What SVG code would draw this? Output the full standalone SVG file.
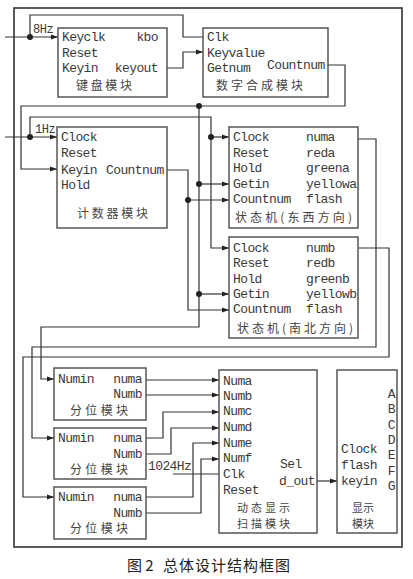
<svg xmlns="http://www.w3.org/2000/svg" width="413" height="579" viewBox="0 0 413 579">
<style>
.bg{fill:#fff}
.frame{fill:none;stroke:#333;stroke-width:1.6}
.box{fill:#fff;stroke:#555;stroke-width:1.5}
.w{fill:none;stroke:#333;stroke-width:1.2}
.t{font-family:"Liberation Mono",monospace;font-size:13px;letter-spacing:-0.6px;fill:#3a3a3a}
.s{font-family:"Liberation Mono",monospace;font-size:12px;letter-spacing:-0.4px;fill:#3a3a3a}
.c{font-family:"Noto Sans CJK SC",sans-serif;font-size:12px;fill:#444}
.c2{font-family:"Noto Sans CJK SC",sans-serif;font-size:11px;fill:#444}
.cap{font-family:"Noto Sans CJK SC",sans-serif;font-size:15px;fill:#222}
.e{text-anchor:end}
.dot{fill:#222}
</style>
<defs>
<marker id="ah" markerWidth="7" markerHeight="6" refX="7" refY="3" orient="auto" markerUnits="userSpaceOnUse"><path d="M0,0.5 L7,3 L0,5.5 z" fill="#222"/></marker>
</defs>
<rect class="bg" x="0" y="0" width="413" height="579"/>
<rect id="frame" class="frame" x="14" y="8" width="388" height="539"/>

<g id="connectors">
<path class="w" d="M5,37 H58" marker-end="url(#ah)"/>
<path class="w" d="M30,37 V15 H183 V37 H203"/>
<path class="w" d="M167,68 H183 V52 H203" marker-end="url(#ah)"/>
<path class="w" d="M328,65 H345 V106 H21 V169 H57" marker-end="url(#ah)"/>
<path class="w" d="M199,106 V327 H41 V379 H54" marker-end="url(#ah)"/>
<path class="w" d="M199,184 H229" marker-end="url(#ah)"/>
<path class="w" d="M199,294 H229" marker-end="url(#ah)"/>
<path class="w" d="M5,137 H57" marker-end="url(#ah)"/>
<path class="w" d="M30,137 V117 H211 V248 H229" marker-end="url(#ah)"/>
<path class="w" d="M211,137 H229" marker-end="url(#ah)"/>
<path class="w" d="M167,170 H188 V310 H229" marker-end="url(#ah)"/>
<path class="w" d="M188,200 H229" marker-end="url(#ah)"/>
<path class="w" d="M358,139 H376 V347 H32 V438 H54" marker-end="url(#ah)"/>
<path class="w" d="M358,248 H389 V357 H23 V497 H54" marker-end="url(#ah)"/>
<path class="w" d="M146,380 H219" marker-end="url(#ah)"/>
<path class="w" d="M146,395 H219" marker-end="url(#ah)"/>
<path class="w" d="M146,438 H163 V412 H219" marker-end="url(#ah)"/>
<path class="w" d="M146,454 H171 V428 H219" marker-end="url(#ah)"/>
<path class="w" d="M146,497 H193 V443 H219" marker-end="url(#ah)"/>
<path class="w" d="M146,513 H201 V459 H219" marker-end="url(#ah)"/>
<path class="w" d="M173,474 H219"/>
<path class="w" d="M317,481 H337" marker-end="url(#ah)"/>
<circle class="dot" cx="30" cy="37" r="3"/>
<circle class="dot" cx="199" cy="106" r="3"/>
<circle class="dot" cx="30" cy="137" r="3"/>
<circle class="dot" cx="211" cy="137" r="3"/>
<circle class="dot" cx="199" cy="184" r="3"/>
<circle class="dot" cx="188" cy="200" r="3"/>
<circle class="dot" cx="199" cy="294" r="3"/>
<text class="s" x="33" y="33">8Hz</text>
<text class="s" x="35" y="133">1Hz</text>
<text class="t" x="148" y="470">1024Hz</text>
</g>

<g id="keyboard">
<rect class="box" x="58" y="28" width="109" height="69"/>
<text class="t" x="62" y="41">Keyclk</text>
<text class="t e" x="158" y="41">kbo</text>
<text class="t" x="62" y="57">Reset</text>
<text class="t" x="62" y="72">Keyin</text>
<text class="t e" x="158" y="72">keyout</text>
<text class="c" x="76" y="90" textLength="56" lengthAdjust="spacing">键盘模块</text>
</g>

<g id="synth">
<rect class="box" x="203" y="28" width="125" height="69"/>
<text class="t" x="207" y="41">Clk</text>
<text class="t" x="207" y="57">Keyvalue</text>
<text class="t" x="207" y="72">Getnum</text>
<text class="t" x="267" y="69">Countnum</text>
<text class="c" x="216" y="90" textLength="87" lengthAdjust="spacing">数字合成模块</text>
</g>

<g id="counter">
<rect class="box" x="57" y="127" width="110" height="101"/>
<text class="t" x="61" y="141">Clock</text>
<text class="t" x="61" y="157">Reset</text>
<text class="t" x="61" y="174">Keyin</text>
<text class="t" x="106" y="174">Countnum</text>
<text class="t" x="61" y="189">Hold</text>
<text class="c" x="77" y="218" textLength="71" lengthAdjust="spacing">计数器模块</text>
</g>

<g id="fsm-ew">
<rect class="box" x="229" y="127" width="129" height="101"/>
<text class="t" x="233" y="141">Clock</text>
<text class="t" x="233" y="157">Reset</text>
<text class="t" x="233" y="172">Hold</text>
<text class="t" x="233" y="188">Getin</text>
<text class="t" x="233" y="203">Countnum</text>
<text class="t" x="306" y="141">numa</text>
<text class="t" x="306" y="157">reda</text>
<text class="t" x="306" y="172">greena</text>
<text class="t" x="306" y="188">yellowa</text>
<text class="t" x="306" y="203">flash</text>
<text class="c" x="235" y="222" textLength="117" lengthAdjust="spacing">状态机(东西方向)</text>
</g>

<g id="fsm-sn">
<rect class="box" x="229" y="237" width="129" height="101"/>
<text class="t" x="233" y="252">Clock</text>
<text class="t" x="233" y="267">Reset</text>
<text class="t" x="233" y="283">Hold</text>
<text class="t" x="233" y="298">Getin</text>
<text class="t" x="233" y="313">Countnum</text>
<text class="t" x="306" y="252">numb</text>
<text class="t" x="306" y="267">redb</text>
<text class="t" x="306" y="283">greenb</text>
<text class="t" x="306" y="298">yellowb</text>
<text class="t" x="306" y="313">flash</text>
<text class="c" x="237" y="333" textLength="116" lengthAdjust="spacing">状态机(南北方向)</text>
</g>

<g id="split1">
<rect class="box" x="54" y="368" width="92" height="52"/>
<text class="t" x="58" y="383">Numin</text>
<text class="t e" x="142" y="383">numa</text>
<text class="t e" x="142" y="398">Numb</text>
<text class="c" x="70" y="415" textLength="58" lengthAdjust="spacing">分位模块</text>
</g>

<g id="split2">
<rect class="box" x="54" y="428" width="92" height="51"/>
<text class="t" x="58" y="442">Numin</text>
<text class="t e" x="142" y="442">numa</text>
<text class="t e" x="142" y="458">Numb</text>
<text class="c" x="70" y="474" textLength="58" lengthAdjust="spacing">分位模块</text>
</g>

<g id="split3">
<rect class="box" x="54" y="487" width="92" height="52"/>
<text class="t" x="58" y="501">Numin</text>
<text class="t e" x="142" y="501">numa</text>
<text class="t e" x="142" y="517">Numb</text>
<text class="c" x="70" y="533" textLength="58" lengthAdjust="spacing">分位模块</text>
</g>

<g id="scan">
<rect class="box" x="219" y="370" width="98" height="163"/>
<text class="t" x="223" y="385">Numa</text>
<text class="t" x="223" y="400">Numb</text>
<text class="t" x="223" y="415">Numc</text>
<text class="t" x="223" y="431">Numd</text>
<text class="t" x="223" y="447">Nume</text>
<text class="t" x="223" y="462">Numf</text>
<text class="t" x="223" y="478">Clk</text>
<text class="t" x="223" y="494">Reset</text>
<text class="t" x="280" y="468">Sel</text>
<text class="t" x="279" y="485">d_out</text>
<text class="c2" x="237" y="512" textLength="53" lengthAdjust="spacing">动态显示</text>
<text class="c2" x="237" y="528" textLength="53" lengthAdjust="spacing">扫描模块</text>
</g>

<g id="display">
<rect class="box" x="337" y="370" width="60" height="163"/>
<text class="t e" x="395" y="398">A</text>
<text class="t e" x="395" y="413">B</text>
<text class="t e" x="395" y="429">C</text>
<text class="t e" x="395" y="444">D</text>
<text class="t e" x="395" y="459">E</text>
<text class="t e" x="395" y="475">F</text>
<text class="t e" x="395" y="490">G</text>
<text class="t" x="341" y="453">Clock</text>
<text class="t" x="341" y="469">flash</text>
<text class="t" x="341" y="485">keyin</text>
<text class="c2" x="352" y="512" textLength="22" lengthAdjust="spacing">显示</text>
<text class="c2" x="352" y="528" textLength="22" lengthAdjust="spacing">模块</text>
</g>

<g id="caption">
<text class="cap" x="127" y="571">图 2</text>
<text class="cap" x="163" y="571" textLength="127" lengthAdjust="spacing">总体设计结构框图</text>
</g>
</svg>
